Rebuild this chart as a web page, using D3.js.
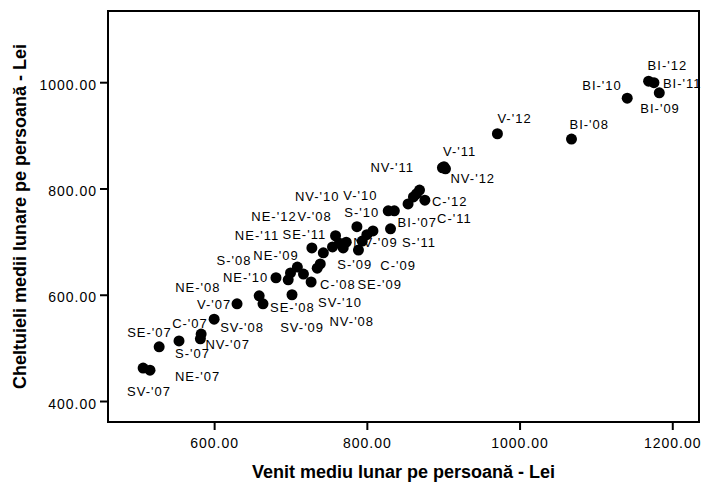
<!DOCTYPE html>
<html>
<head>
<meta charset="utf-8">
<script src="https://cdn.jsdelivr.net/npm/d3@7"></script>
<style>
  body { margin: 0; background: #fff; }
  svg { font-family: "Liberation Sans", Arial, sans-serif; }
  .tick text { font-size: 14px; letter-spacing: 1px; fill: #000; }
  .tick line { stroke: #000; stroke-width: 2; }
  .point-label { font-size: 13px; letter-spacing: 1px; fill: #000; }
  .axis-title { font-size: 18px; font-weight: bold; fill: #000; }
</style>
</head>
<body>
<svg id="chart" width="703" height="485"></svg>
<script>
// case labels (region - year)
const pointLabels = [
  "SV-'07", "NE-'07", "SE-'07", "S-'07", "C-'07", "NV-'07", "V-'07", "BI-'07",
  "NE-'08", "SE-'08", "S-'08", "NV-'08", "C-'08", "V-'08", "SV-'08", "BI-'08",
  "SV-'09", "NE-'09", "S-'09", "V-'09", "SE-'09", "C-'09", "NV-'09", "BI-'09",
  "NE-'10", "SV-'10", "C-'10", "SE-'10", "NV-'10", "S-'10", "V-'10", "BI-'10",
  "NE-'11", "SE-'11", "SV-'11", "S-'11", "C-'11", "NV-'11", "V-'11", "BI-'11",
  "NE-'12", "S-'12", "SE-'12", "SV-'12", "C-'12", "NV-'12", "V-'12", "BI-'12"
];
// venit mediu lunar pe persoana (lei)
const income = [
  507, 516, 528, 554, 583, 582, 630, 831,
  659, 664, 700, 717, 727, 755, 600, 1068,
  697, 709, 739, 735, 789, 794, 769, 1183,
  681, 702, 764, 773, 787, 828, 836, 1141,
  728, 759, 800, 808, 854, 899, 901, 1176,
  743, 861, 865, 869, 876, 903, 971, 1169
];
// cheltuieli medii lunare pe persoana (lei)
const expenses = [
  462, 458, 502, 513, 526, 517, 583, 724,
  598, 583, 641, 639, 624, 690, 554, 893,
  628, 652, 658, 650, 684, 701, 688, 980,
  632, 600, 697, 699, 728, 758, 758, 970,
  688, 711, 713, 720, 771, 839, 841, 999,
  679, 784, 790, 797, 778, 837, 903, 1002
];
const xTicks = [600, 800, 1000, 1200];
const yTicks = [400, 600, 800, 1000];

// where each case label sits relative to its point: [dx to left edge, dy to middle]
// labels SPSS dropped for overlap are missing here
const labelOffset = {
  "SV-'07": [-16, 23], "NE-'07": [25, 6], "SE-'07": [-32, -14], "S-'07": [-4, 12],
  "C-'07": [-29, -11], "NV-'07": [5, 6], "SV-'08": [6, 8], "V-'07": [-40, 1],
  "NE-'08": [-84, -8], "SE-'08": [7, 4], "NE-'10": [-53, 0], "SV-'09": [-8, 48],
  "S-'08": [-74, -13], "NE-'09": [-44, -12], "SV-'10": [26, 8], "NV-'08": [26, 47],
  "C-'08": [9, 2], "NE-'11": [-77, -13], "NE-'12": [-72, -36], "S-'09": [17, 1],
  "SE-'11": [-53, -1], "V-'08": [-35, -30], "NV-'09": [10, -6], "SE-'09": [-1, 34],
  "C-'09": [18, 24], "S-'11": [29, 11], "NV-'10": [-62, -30], "S-'10": [-44, 2],
  "V-'10": [-51, -15], "BI-'07": [7, -6], "C-'11": [29, 15], "C-'12": [7, 1],
  "NV-'11": [-72, 0], "V-'11": [-1, -15], "NV-'12": [5, 10], "V-'12": [0, -15],
  "BI-'08": [-2, -15], "BI-'10": [-45, -13], "BI-'12": [-1, -16], "BI-'11": [9, 1],
  "BI-'09": [-19, 16]
};

const points = pointLabels.map((label, i) => ({ label: label, x: income[i], y: expenses[i] }));

const plotLeft = 108;
const plotRight = 699;
const plotTop = 11;
const plotBottom = 422;

const xScale = d3.scaleLinear().domain([461, 1235]).range([plotLeft, plotRight]);
const yScale = d3.scaleLinear().domain([360.5, 1134]).range([plotBottom, plotTop]);

const svg = d3.select("#chart");

// x axis
svg.append("g")
  .attr("transform", `translate(0,${plotBottom})`)
  .call(d3.axisBottom(xScale).tickValues(xTicks).tickFormat(d3.format(".2f")).tickSize(8).tickPadding(8).tickSizeOuter(0))
  .call((g) => g.select(".domain").remove());

// y axis
svg.append("g")
  .attr("transform", `translate(${plotLeft},0)`)
  .call(d3.axisLeft(yScale).tickValues(yTicks).tickFormat(d3.format(".2f")).tickSize(8).tickPadding(3).tickSizeOuter(0))
  .call((g) => g.select(".domain").remove())
  .selectAll("text")
  .attr("dy", "0.5em");

// frame
svg.append("rect")
  .attr("x", plotLeft)
  .attr("y", plotTop)
  .attr("width", plotRight - plotLeft)
  .attr("height", plotBottom - plotTop)
  .attr("fill", "none")
  .attr("stroke", "#000")
  .attr("stroke-width", 2);

svg.selectAll(".point-label")
  .data(points.filter((p) => labelOffset[p.label]))
  .enter()
  .append("text")
  .classed("point-label", true)
  .attr("x", (p) => xScale(p.x) + labelOffset[p.label][0])
  .attr("y", (p) => yScale(p.y) + labelOffset[p.label][1])
  .attr("dy", "0.35em")
  .text((p) => p.label);

svg.selectAll(".dot")
  .data(points)
  .enter()
  .append("circle")
  .classed("dot", true)
  .attr("cx", (p) => xScale(p.x))
  .attr("cy", (p) => yScale(p.y))
  .attr("r", 5.5)
  .attr("fill", "#000");

svg.append("text")
  .classed("axis-title", true)
  .attr("x", (plotLeft + plotRight) / 2)
  .attr("y", 472)
  .attr("text-anchor", "middle")
  .attr("dy", "0.35em")
  .text("Venit mediu lunar pe persoană - Lei");

svg.append("text")
  .classed("axis-title", true)
  .attr("transform", `translate(20,${(plotTop + plotBottom) / 2}) rotate(-90)`)
  .attr("text-anchor", "middle")
  .attr("dy", "0.35em")
  .text("Cheltuieli medii lunare pe persoană - Lei");
</script>
</body>
</html>
